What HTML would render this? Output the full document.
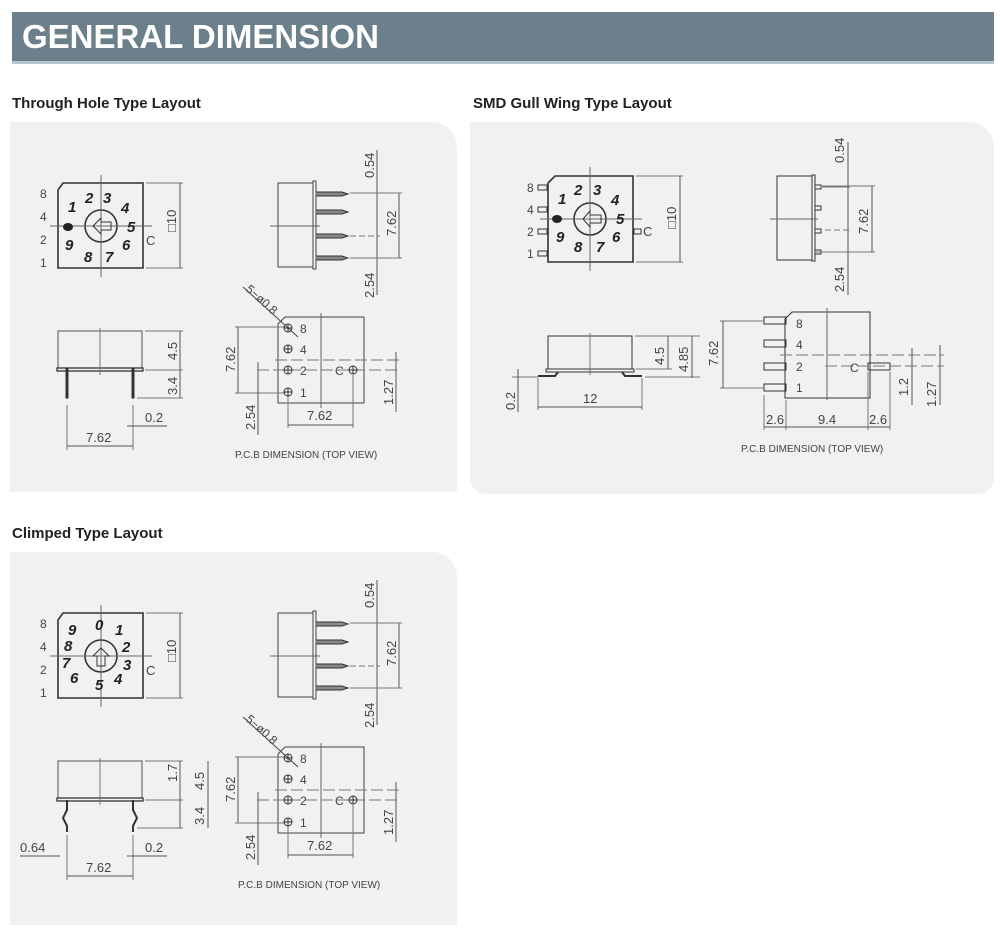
<!DOCTYPE html>
<html><head><meta charset="utf-8"><style>
body{margin:0;background:#fff;width:1000px;height:936px;overflow:hidden}
svg{display:block}
.t{font-family:"Liberation Sans",sans-serif;fill:#444}
.n{font-family:"Liberation Sans",sans-serif;font-weight:bold;font-style:italic;fill:#222;font-size:15px}
.h{font-family:"Liberation Sans",sans-serif;font-weight:bold;fill:#222;font-size:15px}
</style></head><body>
<svg width="1000" height="936" viewBox="0 0 1000 936" xmlns="http://www.w3.org/2000/svg">
<defs>
<g id="dimv"><line x1="0" y1="0" x2="0" y2="1" stroke="#555"/></g>
</defs>
<!-- header -->
<rect x="12" y="12" width="982" height="49" fill="#6b808b"/>
<rect x="12" y="61" width="982" height="3" fill="#b8c6cd"/>
<text x="22" y="48" font-family="Liberation Sans,sans-serif" font-weight="bold" font-size="33" fill="#fff">GENERAL DIMENSION</text>

<text class="h" x="12" y="108">Through Hole Type Layout</text>
<text class="h" x="473" y="108">SMD Gull Wing Type Layout</text>
<text class="h" x="12" y="538">Climped Type Layout</text>

<path d="M10 122 H432 A25 25 0 0 1 457 147 V492 H10 Z" fill="#f1f1f1"/>
<path d="M470 122 H969 A25 25 0 0 1 994 147 V478 A16 16 0 0 1 978 494 H486 A16 16 0 0 1 470 478 Z" fill="#f1f1f1"/>
<path d="M10 552 H432 A25 25 0 0 1 457 577 V925 H10 Z" fill="#f1f1f1"/>

<!-- THROUGH HOLE (group reused for climped with offsets) -->
<g id="th" stroke="#333" fill="none" stroke-width="1">
 <!-- top view -->
 <path d="M63 183 H143 V268 H58 V190 Z" stroke-width="1.6"/>
 <circle cx="101" cy="226" r="16" stroke-width="1.6"/>
 <line x1="101" y1="175" x2="101" y2="277" stroke="#666"/>
 <line x1="50" y1="226" x2="152" y2="226" stroke="#666"/>
 <line x1="146" y1="183" x2="183" y2="183" stroke="#777"/>
 <line x1="146" y1="268" x2="183" y2="268" stroke="#777"/>
 <line x1="180" y1="183" x2="180" y2="268" stroke="#555"/>
 <!-- side view -->
 <rect x="278" y="183" width="35" height="84" stroke="#444"/>
 <rect x="313" y="181" width="3" height="88" stroke="#444"/>
 <line x1="270" y1="226" x2="320" y2="226" stroke="#666"/>
 <line x1="377" y1="150" x2="377" y2="295" stroke="#555"/>
 <line x1="399" y1="193" x2="399" y2="258" stroke="#555"/>
 <line x1="350" y1="193" x2="402" y2="193" stroke="#777"/>
 <line x1="350" y1="258" x2="402" y2="258" stroke="#777"/>
 <line x1="350" y1="236" x2="380" y2="236" stroke="#777" stroke-dasharray="6 3"/>
 <!-- front view -->
 <rect x="58" y="331" width="84" height="37" stroke="#555"/>
 <rect x="57" y="368" width="86" height="3" stroke="#333" stroke-width="1.3"/>
 <line x1="100" y1="328" x2="100" y2="375" stroke="#777"/>
 <line x1="145" y1="331" x2="183" y2="331" stroke="#777"/>
 <line x1="145" y1="370" x2="183" y2="370" stroke="#777"/>
 <line x1="137" y1="398" x2="183" y2="398" stroke="#777"/>
 <line x1="180" y1="331" x2="180" y2="398" stroke="#555"/>
 <line x1="67" y1="405" x2="67" y2="450" stroke="#777"/>
 <line x1="133" y1="405" x2="133" y2="450" stroke="#777"/>
 <line x1="67" y1="446" x2="133" y2="446" stroke="#555"/>
 <line x1="127" y1="426" x2="167" y2="426" stroke="#555"/>
 <!-- pcb -->
 <path d="M285 317 H364 V403 H278 V324 Z" stroke="#444"/>
 <line x1="321" y1="313" x2="321" y2="408" stroke="#666"/>
 <line x1="275" y1="360" x2="400" y2="360" stroke="#777" stroke-dasharray="12 4"/>
 <line x1="257" y1="370" x2="400" y2="370" stroke="#777" stroke-dasharray="12 4"/>
 <line x1="238" y1="327" x2="238" y2="393" stroke="#555"/>
 <line x1="235" y1="327" x2="285" y2="327" stroke="#777"/>
 <line x1="235" y1="393" x2="285" y2="393" stroke="#777"/>
 <line x1="258" y1="362" x2="258" y2="435" stroke="#555"/>
 <line x1="288" y1="395" x2="288" y2="428" stroke="#777"/>
 <line x1="353" y1="375" x2="353" y2="428" stroke="#777"/>
 <line x1="288" y1="425" x2="353" y2="425" stroke="#555"/>
 <line x1="396" y1="352" x2="396" y2="412" stroke="#555"/>
 <line x1="243" y1="287" x2="298" y2="337" stroke="#444"/>
</g>
<g class="t" font-size="12">
 <text x="40" y="198">8</text><text x="40" y="221">4</text><text x="40" y="244">2</text><text x="40" y="267">1</text>
 <text x="146" y="245" font-size="13">C</text>
 <text x="176" y="232" transform="rotate(-90 176 232)" font-size="13">□10</text>
 <text x="374" y="178" transform="rotate(-90 374 178)" font-size="13">0.54</text>
 <text x="396" y="236" transform="rotate(-90 396 236)" font-size="13">7.62</text>
 <text x="374" y="298" transform="rotate(-90 374 298)" font-size="13">2.54</text>
 <text x="177" y="360" transform="rotate(-90 177 360)" font-size="13">4.5</text>
 <text x="177" y="395" transform="rotate(-90 177 395)" font-size="13">3.4</text>
 <text x="145" y="422" font-size="13">0.2</text>
 <text x="86" y="442" font-size="13">7.62</text>
 <text x="235" y="372" transform="rotate(-90 235 372)" font-size="13">7.62</text>
 <text x="255" y="430" transform="rotate(-90 255 430)" font-size="13">2.54</text>
 <text x="307" y="420" font-size="13">7.62</text>
 <text x="393" y="405" transform="rotate(-90 393 405)" font-size="13">1.27</text>
 <text x="300" y="333">8</text><text x="300" y="354">4</text><text x="300" y="375">2</text><text x="300" y="397">1</text>
 <text x="335" y="375">C</text>
 <text x="235" y="458" font-size="10">P.C.B DIMENSION (TOP VIEW)</text>
 <text x="245" y="290" transform="rotate(42 245 290)" font-size="12">5−ø0.8</text>
</g>
<g font-family="Liberation Sans,sans-serif" fill="none" stroke="#333">
 <circle cx="288" cy="328" r="4"/><circle cx="288" cy="349" r="4"/><circle cx="288" cy="370" r="4"/><circle cx="288" cy="392" r="4"/><circle cx="353" cy="370" r="4"/>
 <path d="M284 328h8M288 324v8M284 349h8M288 345v8M284 370h8M288 366v8M284 392h8M288 388v8M349 370h8M353 366v8"/>
 <!-- pins -->
 <path d="M316 192 H342 L348 194 L342 196 H316 M316 210 H342 L348 212 L342 214 H316 M316 234 H342 L348 236 L342 238 H316 M316 256 H342 L348 258 L342 260 H316" fill="#888"/>
 <rect x="66" y="368" width="2" height="30" fill="#333"/><rect x="132" y="368" width="2" height="30" fill="#333"/>
</g>
<g class="n">
 <text x="85" y="203">2</text><text x="103" y="203">3</text><text x="68" y="212">1</text><text x="121" y="213">4</text>
 <text x="127" y="232">5</text><text x="65" y="250">9</text><text x="122" y="250">6</text><text x="84" y="262">8</text><text x="105" y="262">7</text>
 <ellipse cx="68" cy="227" rx="5" ry="4" fill="#222"/>
</g>
<path d="M93 226 L101 218 V222 H111 V230 H101 V234 Z" fill="none" stroke="#333"/>

<!-- CLIMPED: reuse geometry shifted -->
<use href="#th" transform="translate(0,430)"/>
<g class="t" font-size="12" transform="translate(0,430)">
 <text x="40" y="198">8</text><text x="40" y="221">4</text><text x="40" y="244">2</text><text x="40" y="267">1</text>
 <text x="146" y="245" font-size="13">C</text>
 <text x="176" y="232" transform="rotate(-90 176 232)" font-size="13">□10</text>
 <text x="374" y="178" transform="rotate(-90 374 178)" font-size="13">0.54</text>
 <text x="396" y="236" transform="rotate(-90 396 236)" font-size="13">7.62</text>
 <text x="374" y="298" transform="rotate(-90 374 298)" font-size="13">2.54</text>
 <text x="204" y="360" transform="rotate(-90 204 360)" font-size="13">4.5</text>
 <text x="177" y="352" transform="rotate(-90 177 352)" font-size="13">1.7</text>
 <text x="204" y="395" transform="rotate(-90 204 395)" font-size="13">3.4</text>
 <text x="145" y="422" font-size="13">0.2</text>
 <text x="20" y="422" font-size="13">0.64</text>
 <text x="86" y="442" font-size="13">7.62</text>
 <text x="235" y="372" transform="rotate(-90 235 372)" font-size="13">7.62</text>
 <text x="255" y="430" transform="rotate(-90 255 430)" font-size="13">2.54</text>
 <text x="307" y="420" font-size="13">7.62</text>
 <text x="393" y="405" transform="rotate(-90 393 405)" font-size="13">1.27</text>
 <text x="300" y="333">8</text><text x="300" y="354">4</text><text x="300" y="375">2</text><text x="300" y="397">1</text>
 <text x="335" y="375">C</text>
 <text x="238" y="458" font-size="10">P.C.B DIMENSION (TOP VIEW)</text>
 <text x="245" y="290" transform="rotate(42 245 290)" font-size="12">5−ø0.8</text>
</g>
<g fill="none" stroke="#333" transform="translate(0,430)">
 <circle cx="288" cy="328" r="4"/><circle cx="288" cy="349" r="4"/><circle cx="288" cy="370" r="4"/><circle cx="288" cy="392" r="4"/><circle cx="353" cy="370" r="4"/>
 <path d="M284 328h8M288 324v8M284 349h8M288 345v8M284 370h8M288 366v8M284 392h8M288 388v8M349 370h8M353 366v8"/>
 <path d="M316 192 H342 L348 194 L342 196 H316 M316 210 H342 L348 212 L342 214 H316 M316 234 H342 L348 236 L342 238 H316 M316 256 H342 L348 258 L342 260 H316" fill="#888"/>
 <path d="M67 370 V380 L63 388 L67 396 V402 M133 370 V380 L137 388 L133 396 V402" stroke-width="2"/>
 <line x1="20" y1="426" x2="60" y2="426" stroke="#555"/>
 <line x1="208" y1="331" x2="208" y2="398" stroke="#555"/>
</g>
<g class="n" transform="translate(0,430)">
 <text x="95" y="200">0</text><text x="68" y="205">9</text><text x="115" y="205">1</text><text x="64" y="221">8</text>
 <text x="122" y="222">2</text><text x="62" y="238">7</text><text x="123" y="240">3</text><text x="70" y="253">6</text><text x="114" y="254">4</text><text x="95" y="260">5</text>
</g>
<path d="M101 648 L109 656 H105 V666 H97 V656 H93 Z" fill="none" stroke="#333"/>

<!-- SMD -->
<g stroke="#333" fill="none">
 <path d="M555 176 H633 V262 H548 V183 Z" stroke-width="1.6"/>
 <circle cx="590" cy="219" r="16" stroke-width="1.6"/>
 <line x1="590" y1="167" x2="590" y2="271" stroke="#666"/>
 <line x1="540" y1="219" x2="642" y2="219" stroke="#666"/>
 <rect x="538" y="185" width="9" height="5"/><rect x="538" y="207" width="9" height="5"/><rect x="538" y="229" width="9" height="5"/><rect x="538" y="251" width="9" height="5"/><rect x="634" y="229" width="7" height="5"/>
 <line x1="636" y1="176" x2="683" y2="176" stroke="#777"/><line x1="636" y1="262" x2="683" y2="262" stroke="#777"/>
 <line x1="680" y1="176" x2="680" y2="262" stroke="#555"/>
 <path d="M590 211 L583 219 L590 227 V223 H601 V215 H590 Z"/>
 <!-- side -->
 <rect x="777" y="176" width="35" height="84"/>
 <rect x="812" y="175" width="3" height="86"/>
 <line x1="770" y1="219" x2="818" y2="219" stroke="#666"/>
 <path d="M815 185h6v4h-6M815 206h6v4h-6M815 229h6v4h-6M815 250h6v4h-6"/>
 <line x1="822" y1="187" x2="850" y2="187" stroke="#777"/>
 <line x1="815" y1="252" x2="875" y2="252" stroke="#777"/>
 <line x1="825" y1="230" x2="850" y2="230" stroke="#777" stroke-dasharray="6 3"/>
 <line x1="848" y1="142" x2="848" y2="295" stroke="#555"/>
 <line x1="872" y1="186" x2="872" y2="252" stroke="#555"/>
 <line x1="822" y1="186" x2="875" y2="186" stroke="#777"/>
 <!-- front -->
 <rect x="548" y="336" width="84" height="33"/>
 <rect x="546" y="369" width="88" height="3"/>
 <line x1="590" y1="333" x2="590" y2="375" stroke="#777"/>
 <path d="M538 376 H555 L558 372 M622 372 L625 376 H642" stroke-width="2"/>
 <line x1="512" y1="377" x2="538" y2="377" stroke="#777"/>
 <line x1="518" y1="369" x2="518" y2="412" stroke="#555"/>
 <line x1="538" y1="378" x2="538" y2="410" stroke="#777"/><line x1="642" y1="378" x2="642" y2="410" stroke="#777"/>
 <line x1="538" y1="407" x2="642" y2="407" stroke="#555"/>
 <line x1="635" y1="336" x2="700" y2="336" stroke="#777"/><line x1="636" y1="369" x2="672" y2="369" stroke="#777"/><line x1="645" y1="377" x2="700" y2="377" stroke="#777"/>
 <line x1="668" y1="336" x2="668" y2="369" stroke="#555"/><line x1="692" y1="336" x2="692" y2="378" stroke="#555"/>
 <!-- pcb -->
 <path d="M792 312 H870 V398 H785 V319 Z"/>
 <rect x="764" y="317" width="22" height="7"/><rect x="764" y="340" width="22" height="7"/><rect x="764" y="363" width="22" height="7"/><rect x="764" y="384" width="22" height="7"/><rect x="868" y="363" width="22" height="7"/>
 <line x1="827" y1="308" x2="827" y2="400" stroke="#666"/>
 <line x1="780" y1="355" x2="944" y2="355" stroke="#777" stroke-dasharray="12 4"/>
 <line x1="825" y1="366" x2="944" y2="366" stroke="#777" stroke-dasharray="12 4"/>
 <line x1="720" y1="321" x2="764" y2="321" stroke="#777"/><line x1="720" y1="388" x2="764" y2="388" stroke="#777"/>
 <line x1="723" y1="321" x2="723" y2="388" stroke="#555"/>
 <line x1="764" y1="395" x2="764" y2="430" stroke="#777"/><line x1="786" y1="400" x2="786" y2="430" stroke="#777"/><line x1="868" y1="372" x2="868" y2="430" stroke="#777"/><line x1="890" y1="372" x2="890" y2="430" stroke="#777"/>
 <line x1="764" y1="427" x2="890" y2="427" stroke="#555"/>
 <line x1="912" y1="348" x2="912" y2="405" stroke="#555"/><line x1="940" y1="345" x2="940" y2="405" stroke="#555"/>
</g>
<g class="n">
 <text x="574" y="195">2</text><text x="593" y="195">3</text><text x="558" y="204">1</text><text x="611" y="205">4</text>
 <text x="616" y="224">5</text><text x="556" y="242">9</text><text x="612" y="242">6</text><text x="574" y="252">8</text><text x="596" y="252">7</text>
 <ellipse cx="557" cy="219" rx="5" ry="4" fill="#222"/>
</g>
<g class="t" font-size="13">
 <text x="527" y="192" font-size="12">8</text><text x="527" y="214" font-size="12">4</text><text x="527" y="236" font-size="12">2</text><text x="527" y="258" font-size="12">1</text>
 <text x="643" y="236">C</text>
 <text x="676" y="229" transform="rotate(-90 676 229)">□10</text>
 <text x="844" y="163" transform="rotate(-90 844 163)">0.54</text>
 <text x="868" y="234" transform="rotate(-90 868 234)">7.62</text>
 <text x="844" y="292" transform="rotate(-90 844 292)">2.54</text>
 <text x="664" y="365" transform="rotate(-90 664 365)">4.5</text>
 <text x="688" y="372" transform="rotate(-90 688 372)">4.85</text>
 <text x="515" y="410" transform="rotate(-90 515 410)">0.2</text>
 <text x="583" y="403">12</text>
 <text x="718" y="366" transform="rotate(-90 718 366)">7.62</text>
 <text x="796" y="328" font-size="12">8</text><text x="796" y="349" font-size="12">4</text><text x="796" y="371" font-size="12">2</text><text x="796" y="392" font-size="12">1</text>
 <text x="850" y="372" font-size="12">C</text>
 <text x="908" y="396" transform="rotate(-90 908 396)">1.2</text>
 <text x="936" y="407" transform="rotate(-90 936 407)">1.27</text>
 <text x="766" y="424">2.6</text><text x="818" y="424">9.4</text><text x="869" y="424">2.6</text>
 <text x="741" y="452" font-size="10">P.C.B DIMENSION (TOP VIEW)</text>
</g>
</svg>
</body></html>
